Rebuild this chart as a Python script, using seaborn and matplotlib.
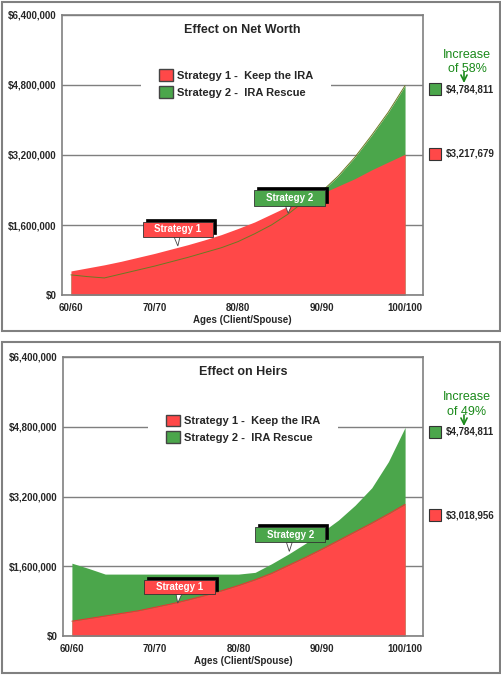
import matplotlib
matplotlib.use("Agg")
import matplotlib.pyplot as plt
import seaborn as sns
import pandas as pd
from matplotlib.patches import Rectangle, Patch, Polygon, FancyArrowPatch
from matplotlib.ticker import FuncFormatter

# data (dollars)
ages = [60, 62, 64, 66, 68, 70, 72, 74, 76, 78, 80, 82, 84, 86, 88, 90, 92, 94, 96, 98, 100]
tick_ages = [60, 70, 80, 90, 100]
tick_labels = ["60/60", "70/70", "80/80", "90/90", "100/100"]
y_ticks = [0, 1600000, 3200000, 4800000, 6400000]

nw_keep = [550000, 620000, 690000, 770000, 860000, 950000, 1050000, 1150000, 1260000, 1380000,
           1520000, 1670000, 1850000, 2030000, 2180000, 2320000, 2490000, 2660000, 2860000, 3040000, 3217679]
nw_rescue = [460000, 420000, 390000, 480000, 570000, 660000, 760000, 860000, 970000, 1080000,
             1220000, 1400000, 1600000, 1850000, 2150000, 2360000, 2720000, 3150000, 3650000, 4180000, 4784811]
heirs_keep = [340000, 400000, 460000, 520000, 580000, 660000, 740000, 830000, 930000, 1040000,
              1160000, 1290000, 1440000, 1620000, 1800000, 1990000, 2190000, 2390000, 2590000, 2800000, 3018956]
heirs_rescue = [1670000, 1550000, 1420000, 1420000, 1420000, 1420000, 1420000, 1420000, 1420000, 1420000,
                1420000, 1460000, 1660000, 1880000, 2120000, 2380000, 2660000, 3000000, 3400000, 4000000, 4784811]

RED = "#FF4848"
GREEN = "#4BA64B"
TXT_GREEN = "#1A8A1A"

sns.set_style("white")
plt.rcParams["font.family"] = ["Liberation Sans", "DejaVu Sans"]

W, H = 502, 675
fig = plt.figure(figsize=(5.02, 6.75), dpi=100)


def fx(px):
    return px / W


def fy(py):
    return 1 - py / H


def callout(ax, x0, x1, y0, y1, tip, color, label):
    dx, dy = 0.36, 68000
    ax.add_patch(Polygon([((x0 + x1) / 2 - 0.45, y0 + 1000), ((x0 + x1) / 2 + 0.25, y0 + 1000), tip],
                         fc="white", ec="#444444", lw=0.6, zorder=4))
    ax.add_patch(Rectangle((x0 + dx, y0 + dy), x1 - x0, y1 - y0, fc="black", ec="black", lw=0.5, zorder=5))
    ax.add_patch(Rectangle((x0, y0), x1 - x0, y1 - y0, fc=color, ec="#333333", lw=0.6, zorder=6))
    ax.text((x0 + x1) / 2, (y0 + y1) / 2, label, color="white", fontsize=7, fontweight="bold",
            ha="center", va="center", zorder=7)


def panel(box, keep, rescue, title, leg_center, callouts, green_line):
    left, top, right, bottom = box
    ax = fig.add_axes([fx(left), fy(bottom), fx(right) - fx(left), fy(top) - fy(bottom)])
    df = pd.DataFrame({"age": ages, "keep": keep, "rescue": rescue})

    ax.fill_between(df["age"], df["rescue"], color=GREEN, lw=0, zorder=1.5)
    ax.fill_between(df["age"], df["keep"], color=RED, lw=0, zorder=1.6)
    if green_line:
        sns.lineplot(data=df, x="age", y="rescue", ax=ax, color="#6B7A22", lw=0.7, zorder=1.7)
    else:
        sns.lineplot(data=df, x="age", y="keep", ax=ax, color="#F03030", lw=0.7, zorder=1.7)

    ax.set_xlim(58.93, 102.15)
    ax.set_ylim(0, 6400000)
    ax.set_xticks(tick_ages)
    ax.set_xticklabels(tick_labels)
    ax.set_yticks(y_ticks)
    ax.yaxis.set_major_formatter(FuncFormatter(lambda v, p: f"${v:,.0f}"))
    ax.set_axisbelow(True)
    ax.yaxis.grid(True, color="#7F7F7F", lw=1)
    ax.xaxis.grid(False)
    for s in ax.spines.values():
        s.set_color("#808080")
        s.set_linewidth(1.2)
    ax.tick_params(axis="both", length=0, labelsize=7)
    ax.tick_params(axis="y", pad=4)
    ax.tick_params(axis="x", pad=6)
    for lab in ax.get_xticklabels() + ax.get_yticklabels():
        lab.set_fontweight("bold")
    ax.set_xlabel("Ages (Client/Spouse)", fontsize=7, fontweight="bold", labelpad=1)
    ax.set_ylabel("")

    ax.text(0.5, 0.948, title, transform=ax.transAxes, ha="center", va="center",
            fontsize=9, fontweight="bold")

    handles = [Patch(fc=RED, ec="#444444", label="Strategy 1 -  Keep the IRA"),
               Patch(fc=GREEN, ec="#444444", label="Strategy 2 -  IRA Rescue")]
    leg = ax.legend(handles=handles, loc="center", bbox_to_anchor=leg_center, frameon=True,
                    facecolor="white", edgecolor="none", framealpha=1, fontsize=8,
                    handlelength=1.26, handleheight=1.26, handletextpad=0.4,
                    labelspacing=0.45, borderpad=1.6)
    for t in leg.get_texts():
        t.set_fontweight("bold")

    for c in callouts:
        callout(ax, *c)
    return ax


panel((62, 15, 423, 295), nw_keep, nw_rescue, "Effect on Net Worth", (0.482, 0.755),
      [(68.6, 77.0, 1326000, 1669000, (72.8, 1120000), RED, "Strategy 1"),
       (81.9, 90.4, 2030000, 2400000, (86.0, 1870000), GREEN, "Strategy 2")], True)
panel((63, 357, 423, 636), heirs_keep, heirs_rescue, "Effect on Heirs", (0.501, 0.742),
      [(68.7, 77.2, 960000, 1280000, (72.7, 754000), RED, "Strategy 1"),
       (82.0, 90.4, 2150000, 2490000, (86.1, 1940000), GREEN, "Strategy 2")], False)

# right-hand notes
notes = [(55, 69, 72, "of 58%", 89, "$4,784,811", 154, "$3,217,679"),
         (397, 412, 415, "of 49%", 432, "$4,784,811", 515, "$3,018,956")]
for y1, y2, ya, pct, yg, gtxt, yr, rtxt in notes:
    fig.text(fx(467), fy(y1), "Increase", color=TXT_GREEN, fontsize=9, ha="center", va="center")
    fig.text(fx(467), fy(y2), pct, color=TXT_GREEN, fontsize=9, ha="center", va="center")
    fig.add_artist(FancyArrowPatch((fx(464), fy(ya)), (fx(464), fy(ya + 11)),
                                   transform=fig.transFigure, arrowstyle="->",
                                   mutation_scale=11, color=TXT_GREEN, lw=1.2,
                                   shrinkA=0, shrinkB=0))
    for yc, col, txt in [(yg, GREEN, gtxt), (yr, RED, rtxt)]:
        fig.add_artist(Rectangle((fx(429), fy(yc + 6)), 12 / W, 12 / H, transform=fig.transFigure,
                                 fc=col, ec="#333333", lw=0.8))
        fig.text(fx(446), fy(yc), txt, fontsize=7, fontweight="bold", va="center", ha="left")

# panel frames
for top, bottom in [(2, 331), (342, 673)]:
    fig.add_artist(Rectangle((fx(2), fy(bottom)), 498 / W, (bottom - top) / H, fill=False,
                             ec="#808080", lw=1.5, transform=fig.transFigure))

fig.savefig("out.png", dpi=100, facecolor="white")
